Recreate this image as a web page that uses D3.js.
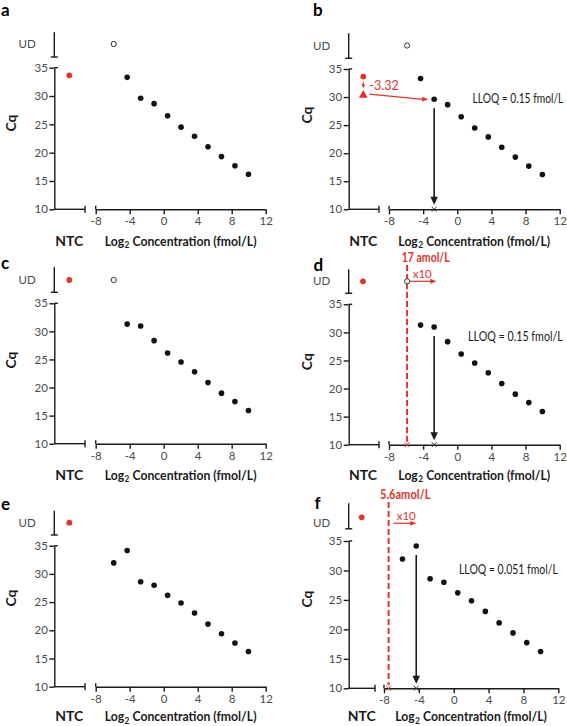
<!DOCTYPE html>
<html><head><meta charset="utf-8">
<script src="https://cdn.jsdelivr.net/npm/d3@7"></script>
<style>
html,body{margin:0;padding:0;background:#fff;}
svg{display:block;}
text{font-family:Lato,"Open Sans",sans-serif;}
</style></head>
<body><svg id="chart" width="567" height="726"></svg>
<script>
// ---------------- data ----------------
const log2Conc = [9.97, 8.38, 6.80, 5.21, 3.63, 2.04, 0.46, -1.13, -2.71, -4.30, -5.88];
const cqAB = [16.2, 17.7, 19.3, 21.05, 22.9, 24.5, 26.5, 28.65, 29.6, 33.3, null];   // null = UD
const cqCD = [15.9, 17.5, 19.0, 20.9, 22.8, 24.55, 26.15, 28.35, 30.95, 31.3, null];
const cqEF = [16.25, 17.75, 19.4, 21.1, 23.05, 24.85, 26.2, 28.0, 28.6, 34.15, 31.95];
const ntcCq = [33.65, null, null];            // NTC for sets AB, CD, EF (null = UD)
const yTicks = [10, 15, 20, 25, 30, 35];
const xTicks = [-8, -4, 0, 4, 8, 12];
const panelLetters = ["a", "b", "c", "d", "e", "f"];
const panelSeries = [cqAB, cqAB, cqCD, cqCD, cqEF, cqEF];
const panelNtc = [ntcCq[0], ntcCq[0], ntcCq[1], ntcCq[1], ntcCq[2], ntcCq[2]];
const ntcShift = -3.32;
const lloqPanels = ["b", "d", "f"];
const lloqLog2 = [-2.71, -2.71, -4.30];
const lloqLabels = ["LLOQ = 0.15 fmol/L", "LLOQ = 0.15 fmol/L", "LLOQ = 0.051 fmol/L"];
const lodPanels = ["d", "f"];
const lodLog2 = [-5.88, -7.47];
const lodLabels = ["17 amol/L", "5.6amol/L"];
const lodFactor = "x10";

// ---------------- layout (positions only) ----------------
const layout = {
  a:{ax:54.3, x0:95.7, x1:265.7, ntcEnd:85, ntcX:69.3, udTop:32.3, udBot:57, udY:44, y35:67.7, y10:209.3, cqX:10.5, cqY:123, lx:1, ly:16, tY:245.5},
  b:{ax:348.7, x0:389, x1:559.7, ntcEnd:379, ntcX:363.3, udTop:33.3, udBot:58.3, udY:45.5, y35:69, y10:209.3, cqX:306.5, cqY:115, lx:313, ly:16, tY:245.5,
     llX:472.5, llY:103, llW:91},
  c:{ax:54.3, x0:95.7, x1:265.7, ntcEnd:85, ntcX:69.3, udTop:267.3, udBot:292.3, udY:280, y35:303.3, y10:443.7, cqX:10.5, cqY:360, lx:1, ly:269, tY:479.5},
  d:{ax:348.7, x0:389, x1:559.7, ntcEnd:379, ntcX:363, udTop:269.3, udBot:293.3, udY:281.3, y35:304.3, y10:444.7, cqX:307, cqY:361.7, lx:313.5, ly:270.5, tY:479.5,
     llX:468, llY:341, llW:95, lodTop:265, lodTxtX:401.7, lodTxtY:262, lodTxtW:48, x10X:412.7, x10Y:278, arX0:409.7, arX1:436.3, arY:281.3},
  e:{ax:54.3, x0:95.7, x1:265.7, ntcEnd:85, ntcX:69.3, udTop:510.7, udBot:535, udY:522.7, y35:545.7, y10:686.7, cqX:10.5, cqY:598, lx:1, ly:509.5, tY:721},
  f:{ax:348.7, x0:384, x1:558.3, ntcEnd:375, ntcX:361.7, ntcDotY:517.3, udTop:503.3, udBot:528.8, udY:523.3, y35:541, y10:688.3, cqX:307, cqY:599, lx:314.5, ly:508.5, tY:721,
     llX:459, llY:573.5, llW:99, lodTop:502, lodTxtX:380, lodTxtY:499, lodTxtW:50.5, x10X:396.7, x10Y:519.5, arX0:393.3, arX1:416.3, arY:523.3}
};

const RED = "#e5332a", INK = "#1a1a1a", TICK = "#4a4a4a";
const svg = d3.select("#chart");

function line(g, x1, y1, x2, y2, color, w){
  g.append("line").attr("x1",x1).attr("y1",y1).attr("x2",x2).attr("y2",y2)
    .attr("stroke",color).attr("stroke-width",w);
}
function head(g, x, y, dir, color, len, wid){
  const pts = dir === "down"
    ? [[x - wid/2, y - len], [x + wid/2, y - len], [x, y]]
    : [[x - len, y - wid/2], [x - len, y + wid/2], [x, y]];
  g.append("path").attr("d", d3.line()(pts) + "Z").attr("fill", color);
}
function cross(g, x, y, color){
  const s = 2.4;
  g.append("path").attr("d", `M${x-s},${y-s}L${x+s},${y+s}M${x-s},${y+s}L${x+s},${y-s}`)
    .attr("stroke", color).attr("stroke-width", 1).attr("fill","none");
}
// text squeezed horizontally to a target width (reference font is narrower)
function fitText(g, x, y, w, str, size, weight, color){
  const tg = g.append("g");
  const t = tg.append("text").attr("x", 0).attr("y", 0).attr("font-size", size)
    .attr("font-weight", weight).attr("fill", color).text(str);
  const nat = t.node().getComputedTextLength();
  tg.attr("transform", `translate(${x},${y}) scale(${w / nat},1)`);
  return tg;
}

const scales = {};

panelLetters.forEach((id, k) => {
  const L = layout[id];
  const cq = panelSeries[k];
  const ntc = panelNtc[k];
  const g = svg.append("g").attr("class", "panel-" + id);
  const x = d3.scaleLinear().domain([xTicks[0], xTicks[xTicks.length-1]]).range([L.x0, L.x1]);
  const y = d3.scaleLinear().domain([yTicks[0], yTicks[yTicks.length-1]]).range([L.y10, L.y35]);
  scales[id] = {x, y, g, L, cq};

  // axes
  const ya = g.append("g").attr("transform", `translate(${L.ax},0)`)
    .call(d3.axisLeft(y).tickValues(yTicks).tickSize(5).tickSizeOuter(0).tickPadding(1.5).tickFormat(d => String(d)));
  const xa = g.append("g").attr("transform", `translate(0,${L.y10})`)
    .call(d3.axisBottom(x).tickValues(xTicks).tickSize(5).tickSizeOuter(0).tickPadding(3).tickFormat(d => String(d)));
  [ya, xa].forEach(a => {
    a.attr("font-size", null).attr("font-family", null);
    a.selectAll("path,line").attr("stroke", INK).attr("stroke-width", 1.4);
    a.selectAll("text").attr("fill", TICK).attr("font-size", 11.5).attr("font-family", "Lato");
  });
  // axis break caps
  line(g, L.ax, L.y35, L.ax + 3.5, L.y35, INK, 1.4);
  line(g, L.ax, L.udTop, L.ax, L.udBot, INK, 1.4);
  line(g, L.ax - 3.5, L.udBot, L.ax + 3.5, L.udBot, INK, 1.4);
  line(g, L.ax, L.y10, L.ntcEnd, L.y10, INK, 1.4);
  line(g, L.ntcEnd, L.y10 - 3.5, L.ntcEnd, L.y10 + 3.5, INK, 1.4);
  line(g, L.x0, L.y10 - 3.5, L.x0, L.y10, INK, 1.4);

  // labels
  g.append("text").attr("x", L.ax - 18.5).attr("y", L.udY).attr("dy", "0.35em")
    .attr("text-anchor", "end").attr("font-size", 11.5).attr("fill", TICK).text("UD");
  g.append("text").attr("x", L.ntcX).attr("y", L.tY).attr("text-anchor", "middle")
    .attr("font-size", 14).attr("font-weight", 700).attr("fill", INK).text("NTC");

  // x title: "Log" + subscript "2" + "Concentration (fmol/L)", compressed to reference width
  const tg = g.append("g");
  const style = s => s.attr("font-weight", 700).attr("fill", INK);
  const t1 = style(tg.append("text").attr("x", 0).attr("y", 0).attr("font-size", 14)).text("Log");
  const w1 = t1.node().getComputedTextLength();
  const t2 = style(tg.append("text").attr("x", w1 + 0.5).attr("y", 2.5).attr("font-size", 9.5)).text("2");
  const w2 = t2.node().getComputedTextLength();
  const t3x = w1 + 0.5 + w2 + 3.5;
  const t3 = style(tg.append("text").attr("x", t3x).attr("y", 0).attr("font-size", 14)).text("Concentration (fmol/L)");
  const wTot = t3x + t3.node().getComputedTextLength();
  const targetW = 152, sx = targetW / wTot;
  tg.attr("transform", `translate(${(L.x0 + L.x1) / 2 - targetW / 2},${L.tY}) scale(${sx},1)`);

  g.append("text").attr("transform", `translate(${L.cqX + 5},${L.cqY}) rotate(-90)`)
    .attr("text-anchor", "middle").attr("font-size", 14).attr("font-weight", 700).attr("fill", INK).text("Cq");
  g.append("text").attr("x", L.lx).attr("y", L.ly).attr("font-family", "Liberation Sans, Arial, sans-serif")
    .attr("font-size", 17).attr("font-weight", 700).attr("fill", "#000").text(id);

  // points
  g.selectAll("circle.pt").data(log2Conc.map((c, i) => ({c, q: cq[i]}))).join("circle")
    .attr("class", "pt")
    .attr("cx", d => x(d.c))
    .attr("cy", d => d.q == null ? L.udY : y(d.q))
    .attr("r", d => d.q == null ? 2.6 : 2.8)
    .attr("fill", d => d.q == null ? "#fff" : "#111")
    .attr("stroke", d => d.q == null ? "#333" : "none")
    .attr("stroke-width", 1);
  g.append("circle").attr("cx", L.ntcX)
    .attr("cy", ntc == null ? (L.ntcDotY || L.udY) : y(ntc))
    .attr("r", 2.9).attr("fill", RED);
});

// ---- panel b: NTC shift annotation ----
{
  const {x, y, g, L, cq} = scales.b;
  const ntc = panelNtc[1];
  const yN = y(ntc), yT = y(ntc + ntcShift);
  line(g, L.ntcX, yN + 5, L.ntcX, yT - 9, RED, 1);
  head(g, L.ntcX, yT - 7, "down", RED, 4, 4);
  g.append("path").attr("d", d3.symbol(d3.symbolTriangle, 34)())
    .attr("transform", `translate(${L.ntcX},${yT})`).attr("fill", RED);
  g.append("text").attr("x", L.ntcX + 6).attr("y", (yN + yT) / 2 + 4).attr("font-size", 12.5)
    .attr("fill", RED).text(String(ntcShift));
  const i = log2Conc.indexOf(lloqLog2[0]);
  const tx = x(log2Conc[i]) - 6, ty = y(cq[i]);
  line(g, L.ntcX + 6, yT - 1, tx - 5, ty, RED, 1.2);
  head(g, tx, ty, "right", RED, 6, 5);
}

// ---- LLOQ arrows ----
lloqPanels.forEach((id, j) => {
  const {x, y, g, L, cq} = scales[id];
  const i = log2Conc.indexOf(lloqLog2[j]);
  const xa = x(lloqLog2[j]);
  const top = y(cq[i]) + 9, tip = L.y10 - 4.5;
  line(g, xa, top, xa, tip - 6, INK, 1.6);
  head(g, xa, tip, "down", INK, 8, 7.5);
  cross(g, xa, L.y10, "#333");
  fitText(g, L.llX, L.llY, L.llW, lloqLabels[j], 12.5, 400, INK);
});

// ---- LOD dashed lines ----
lodPanels.forEach((id, j) => {
  const {x, g, L} = scales[id];
  const xl = x(lodLog2[j]);
  g.insert("line", "circle").attr("x1", xl).attr("x2", xl).attr("y1", L.lodTop).attr("y2", L.y10 - 3)
    .attr("stroke", RED).attr("stroke-width", 2).attr("stroke-dasharray", "6,3");
  cross(g, xl, L.y10, RED);
  fitText(g, L.lodTxtX, L.lodTxtY, L.lodTxtW, lodLabels[j], 13, 700, RED);
  g.append("text").attr("x", L.x10X).attr("y", L.x10Y).attr("font-size", 11.5).attr("fill", RED).text(lodFactor);
  line(g, L.arX0, L.arY, L.arX1 - 5, L.arY, RED, 1.2);
  head(g, L.arX1, L.arY, "right", RED, 6, 5);
});
</script>
</body></html>
